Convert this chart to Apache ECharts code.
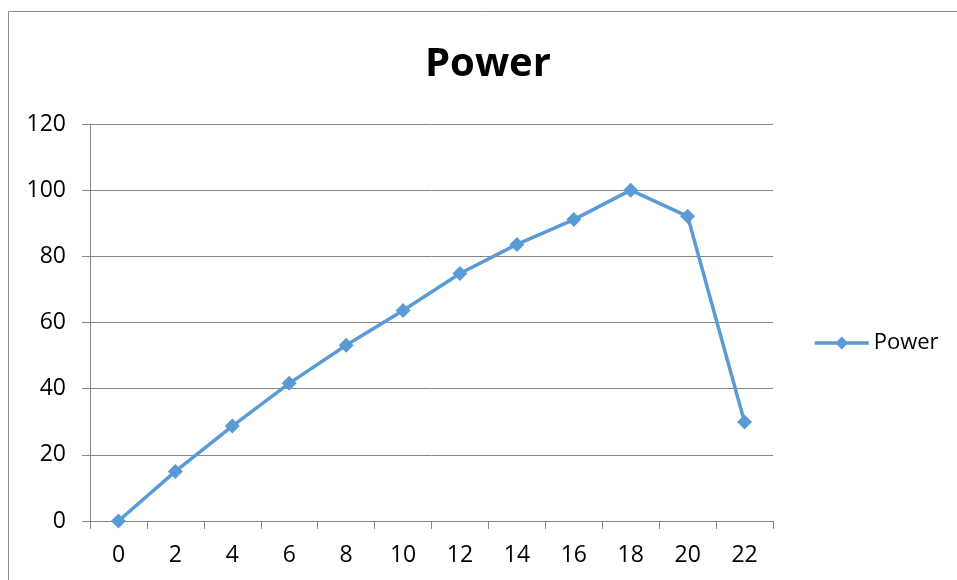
<!DOCTYPE html>
<html>
<head>
<meta charset="utf-8">
<script src="https://cdn.jsdelivr.net/npm/echarts@6/dist/echarts.min.js"></script>
<style>
  html, body { margin: 0; padding: 0; background: #fff; }
  #main { width: 957px; height: 580px; }
</style>
</head>
<body>
<div id="main"></div>
<script>
// categories and values
const categories = ['0', '2', '4', '6', '8', '10', '12', '14', '16', '18', '20', '22'];
const powerValues = [0, 15, 28.7, 41.6, 53.1, 63.6, 74.8, 83.6, 91.1, 100, 92.1, 29.9];
const yTicks = { min: 0, max: 120, interval: 20 };

const lineColor = '#5B9BD5';
const gridColor = '#868686';
const font = 'Open Sans';

const chart = echarts.init(document.getElementById('main'));

const option = {
    animation: false,
    title: {
        text: 'Power',
        left: 420,
        top: 40,
        textStyle: { fontFamily: font, fontSize: 40, fontWeight: 'bold', color: '#000' }
    },
    legend: {
        data: ['Power'],
        left: 808,
        top: 327,
        itemWidth: 54,
        itemHeight: 16,
        lineStyle: { width: 3.5 },
        textStyle: { fontFamily: font, fontSize: 22, color: '#000' }
    },
    grid: { left: 90, right: 184, top: 124, bottom: 59 },
    xAxis: {
        type: 'category',
        data: categories,
        boundaryGap: true,
        axisLine: { lineStyle: { color: gridColor, width: 1 } },
        axisTick: { show: true, length: 8, interval: 0, lineStyle: { color: gridColor } },
        axisLabel: { fontFamily: font, fontSize: 23, color: '#000', margin: 23, interval: 0 }
    },
    yAxis: {
        type: 'value',
        min: yTicks.min,
        max: yTicks.max,
        interval: yTicks.interval,
        axisLine: { show: true, lineStyle: { color: gridColor, width: 1 } },
        axisTick: { show: true, length: 8, lineStyle: { color: gridColor } },
        axisLabel: { fontFamily: font, fontSize: 23, color: '#000', margin: 24 },
        splitLine: { show: true, lineStyle: { color: gridColor, width: 1 } }
    },
    series: [
        {
            name: 'Power',
            type: 'line',
            data: powerValues,
            symbol: 'diamond',
            symbolSize: 15,
            itemStyle: { color: lineColor },
            lineStyle: { color: lineColor, width: 3.5 }
        }
    ],
    graphic: [
        {
            type: 'rect',
            shape: { x: 8.5, y: 11.5, width: 1200, height: 1000 },
            style: { fill: 'none', stroke: '#8c8c8c', lineWidth: 1 },
            silent: true
        }
    ]
};

chart.setOption(option);
</script>
</body>
</html>
